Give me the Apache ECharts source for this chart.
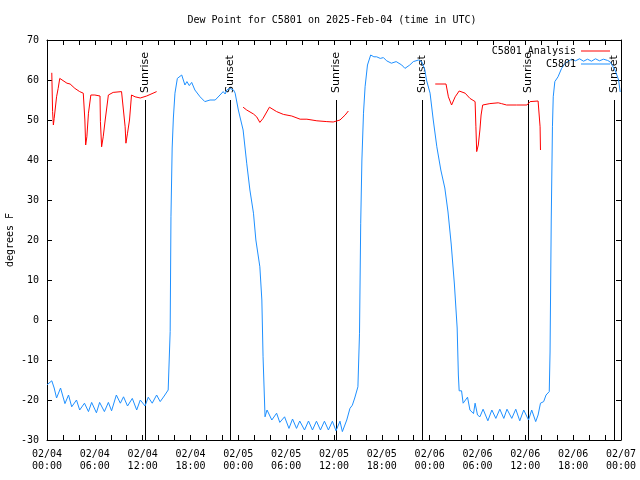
<!DOCTYPE html>
<html><head><meta charset="utf-8">
<script src="https://cdn.jsdelivr.net/npm/echarts@6/dist/echarts.min.js"></script>
<style>html,body{margin:0;padding:0;background:#fff}#c{width:640px;height:480px}</style>
</head><body><div id="c"></div>
<script>
// Hours since 2025-02-04 00:00 UTC
const obsHours = [
 0.0,0.6,0.9,1.2,1.7,2.25,2.7,3.1,3.7,4.1,4.7,5.2,5.6,6.2,6.6,7.2,7.7,8.1,8.7,9.2,9.6,10.1,10.7,11.25,11.7,12.3,12.7,13.2,13.75,14.2,14.7,15.2,15.35,
 15.45,15.55,15.7,15.85,16.05,16.35,16.6,16.9,17.3,17.55,17.85,18.15,18.55,19.2,19.8,20.45,21.1,21.7,22.1,22.35,22.55,22.95,23.2,23.4,23.6,
 24.0,24.6,25.05,25.45,25.9,26.2,26.7,26.95,27.1,27.35,27.6,28.2,28.8,29.2,29.8,30.35,30.8,31.3,31.7,32.3,32.8,33.3,33.8,34.3,34.8,35.3,35.8,36.25,36.75,37.05,37.6,
 38.0,38.3,38.6,39.0,39.2,39.35,39.5,39.7,39.9,40.2,40.6,41.0,41.35,41.8,42.2,42.6,43.2,43.8,44.5,44.9,45.5,45.95,46.6,47.0,47.4,47.6,48.05,48.45,
 48.9,49.4,49.9,50.3,50.7,51.1,51.45,51.6,51.7,52.0,52.2,52.45,52.75,53.05,53.5,53.7,54.0,54.3,54.7,55.3,55.8,56.3,56.8,57.3,57.7,58.3,58.8,59.3,59.8,60.4,60.8,61.3,61.6,61.9,62.3,62.6,63.0,
 63.1,63.25,63.4,63.5,63.7,64.1,64.55,65.0,65.8,66.3,66.8,67.3,67.8,68.3,68.8,69.3,69.8,70.3,70.6,71.25,71.7,71.9
];
const obsValues = [
 -16.2,-15.2,-17.0,-19.5,-17.0,-20.9,-18.75,-21.7,-20.0,-22.5,-20.8,-22.9,-20.6,-23.2,-20.6,-22.9,-20.6,-22.7,-18.75,-20.8,-19.2,-21.5,-19.6,-22.5,-20.0,-21.5,-19.3,-20.8,-18.75,-20.4,-19.0,-17.5,-17.0,
 -2.9,25.8,43.0,50.5,56.7,60.4,60.8,61.25,58.75,59.6,58.6,59.4,57.5,55.8,54.6,55.0,55.0,56.25,57.1,56.5,57.5,57.9,57.9,57.5,56.7,
 52.5,47.5,39.2,32.5,26.7,20.0,13.3,5.0,-9.2,-24.2,-22.5,-25.0,-23.3,-25.6,-24.2,-27.1,-24.75,-27.1,-25.25,-27.5,-25.25,-27.5,-25.3,-27.5,-25.3,-27.5,-25.3,-27.7,-25.3,-27.9,-25.0,
 -22.1,-21.3,-19.5,-16.7,-3.3,24.2,40.0,51.7,58.3,63.75,66.25,65.8,65.8,65.4,65.6,64.8,64.2,64.6,63.75,62.9,63.75,64.6,65.0,64.6,62.5,60.0,56.7,50.0,
 43.3,37.5,33.0,27.0,19.0,9.0,-2.0,-13.75,-17.7,-17.7,-20.8,-20.8,-19.3,-22.5,-23.4,-20.8,-23.75,-24.2,-22.3,-25.2,-22.5,-24.6,-22.3,-24.6,-22.3,-24.6,-22.3,-25.2,-22.5,-25.0,-22.5,-25.4,-23.75,-20.8,-20.4,-18.75,-17.9,
 -8.0,25.0,48.3,55.8,59.6,60.8,62.9,64.2,65.2,64.8,65.3,64.7,65.2,64.7,65.3,64.8,65.2,64.9,64.6,62.5,60.0,57.0
];
// Analysis series; null values mark gaps between segments
const anaHours = [
 0.6,0.7,0.8,0.9,1.2,1.4,1.6,1.85,2.5,2.9,3.5,4.1,4.55,4.75,4.85,5.0,5.2,5.5,6.0,6.65,6.7,6.85,7.05,7.3,7.7,8.3,9.35,9.6,9.8,9.9,10.1,10.35,10.6,11.05,11.7,12.5,13.3,13.75,
 19.0,
 24.6,25.05,25.9,26.3,26.7,27.1,27.9,28.8,29.65,30.7,31.75,32.6,33.85,35.1,35.9,36.75,37.4,37.8,
 43.0,
 48.7,50.05,50.35,50.75,51.2,51.7,52.45,53.05,53.7,53.8,53.9,54.1,54.3,54.45,54.65,55.55,56.6,57.0,57.65,58.9,60.2,60.6,61.6,61.85,61.9
];
const anaValues = [
 61.8,52.1,48.75,50.4,55.8,57.9,60.4,60.4,59.2,59.0,57.9,57.1,56.7,50.0,43.75,45.8,51.7,56.25,56.25,56.0,49.6,43.3,45.8,50.0,56.25,56.9,57.1,57.1,48.3,44.2,46.7,50.0,56.25,55.8,55.5,56.0,56.7,57.1,
 null,
 53.2,52.5,51.5,50.8,49.4,50.4,53.2,52.1,51.4,51.0,50.2,50.2,49.8,49.6,49.5,50.0,51.25,52.25,
 null,
 59.0,59.0,55.8,53.75,55.8,57.25,56.7,55.4,54.6,48.3,42.1,43.75,47.5,51.25,53.75,54.1,54.3,54.1,53.75,53.75,53.75,54.6,54.75,48.3,42.5
];
const sunTimes = [12.3, 23.0, 36.25, 47.08, 60.37, 71.16];
const sunLabels = ['Sunrise','Sunset','Sunrise','Sunset','Sunrise','Sunset'];
const sunTop = 55;
const yMin = -30, yMax = 70, yStep = 10;
const xMin = 0, xMax = 72, xStep = 2, xLabelStep = 6;
const dayLabels = ['02/04','02/05','02/06','02/07'];

const MONO = '"DejaVu Sans Mono", "Liberation Mono", monospace';
const pair = (hs, vs) => hs.map((h, i) => [h, vs[i] === null ? '-' : vs[i]]);

function xFmt(v) {
  if (v % xLabelStep !== 0) return '';
  const d = Math.floor(v / 24), hr = v % 24;
  return dayLabels[d] + '\n' + String(hr).padStart(2, '0') + ':00';
}

const axisCommon = {
  axisLine: { show: true, onZero: false, lineStyle: { color: '#000', width: 1 } },
  axisTick: { show: true, inside: true, length: 5, lineStyle: { color: '#000' } },
  splitLine: { show: false }
};

const legendCommon = {
  right: 25, align: 'right', orient: 'vertical', icon: 'rect',
  itemWidth: 29, itemHeight: 1, selectedMode: false,
  textStyle: { fontFamily: MONO, fontSize: 10, color: '#000' }
};

const chart = echarts.init(document.getElementById('c'), null, { renderer: 'canvas' });
chart.setOption({
  animation: false,
  backgroundColor: '#fff',
  title: {
    text: 'Dew Point for C5801 on 2025-Feb-04 (time in UTC)',
    left: 327, top: 10, textAlign: 'center',
    textStyle: { fontFamily: MONO, fontSize: 10, fontWeight: 'normal', color: '#000' }
  },
  legend: [
    Object.assign({ data: ['C5801 Analysis'], top: 41 }, legendCommon),
    Object.assign({ data: ['C5801'], top: 54 }, legendCommon)
  ],
  grid: { left: 47, right: 19, top: 40, bottom: 40, outerBoundsMode: 'none', containLabel: false },
  xAxis: [
    Object.assign({ type: 'value', position: 'bottom', min: xMin, max: xMax, interval: xStep,
      axisLabel: { formatter: xFmt, fontFamily: MONO, fontSize: 10, color: '#000', margin: 8, lineHeight: 12, showMinLabel: true, showMaxLabel: true } }, axisCommon),
    Object.assign({ type: 'value', position: 'top', min: xMin, max: xMax, interval: xStep,
      axisLabel: { show: false } }, axisCommon)
  ],
  yAxis: [
    Object.assign({ type: 'value', position: 'left', min: yMin, max: yMax, interval: yStep,
      name: 'degrees F', nameLocation: 'middle', nameGap: 32, nameRotate: 90, nameMoveOverlap: false,
      nameTextStyle: { fontFamily: MONO, fontSize: 10, color: '#000' },
      axisLabel: { fontFamily: MONO, fontSize: 10, color: '#000', margin: 8 } }, axisCommon),
    Object.assign({ type: 'value', position: 'right', min: yMin, max: yMax, interval: yStep,
      axisLabel: { show: false } }, axisCommon)
  ],
  series: [
    {
      type: 'custom', name: 'sun', silent: true, z: 1,
      xAxisIndex: 0, yAxisIndex: 0,
      data: sunTimes.map(t => [t, sunTop]),
      encode: { x: 0, y: 1 },
      renderItem: function (params, api) {
        const t = api.value(0);
        const p1 = api.coord([t, sunTop]);
        const p2 = api.coord([t, yMin]);
        const x = Math.round(p1[0]) + 0.5;
        return { type: 'group', children: [
          { type: 'line', shape: { x1: x, y1: p1[1], x2: x, y2: p2[1] }, style: { stroke: '#000', lineWidth: 1 } },
          { type: 'text', x: x, y: p1[1] - 7, rotation: Math.PI / 2,
            style: { text: sunLabels[params.dataIndex], font: '11px "DejaVu Sans", sans-serif', fill: '#000', align: 'left', verticalAlign: 'middle' } }
        ] };
      }
    },
    {
      name: 'C5801 Analysis', type: 'line', xAxisIndex: 0, yAxisIndex: 0,
      data: pair(anaHours, anaValues), symbol: 'none', connectNulls: false, z: 3,
      lineStyle: { color: '#ff0000', width: 1 }, itemStyle: { color: '#ff0000' }
    },
    {
      name: 'C5801', type: 'line', xAxisIndex: 0, yAxisIndex: 0,
      data: pair(obsHours, obsValues), symbol: 'none', z: 2,
      lineStyle: { color: '#1e90ff', width: 1 }, itemStyle: { color: '#1e90ff' }
    }
  ]
});
</script>
</body></html>
